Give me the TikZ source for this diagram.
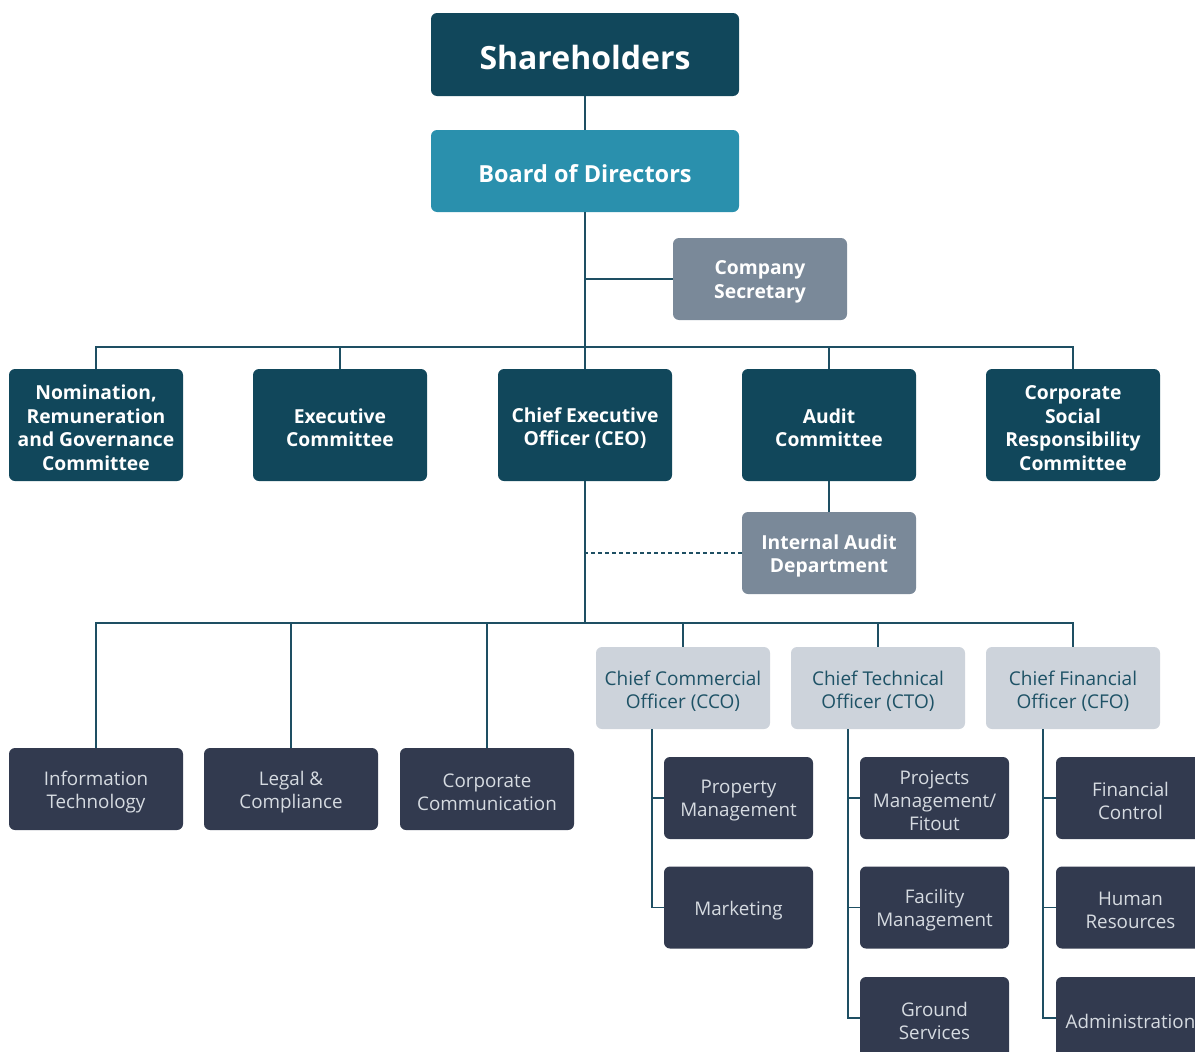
\documentclass[tikz,border=0pt]{standalone}
\usepackage{fontspec}
\setmainfont{Open Sans}
\usetikzlibrary{calc}
\definecolor{navy}{HTML}{11475B}
\definecolor{teal}{HTML}{2A90AD}
\definecolor{greybox}{HTML}{7A8999}
\definecolor{slate}{HTML}{323A4F}
\definecolor{pale}{HTML}{CDD3DB}
\definecolor{linec}{HTML}{1E4F63}
\definecolor{paletext}{HTML}{D6DBE1}
\definecolor{tealtext}{HTML}{1E5266}
\newcommand{\orgbox}[5]{%
  \node[#1] (#3) at (#4) {};
  \node[#2] (#3t) at ([yshift=-3pt]#3.center) {#5};}
\begin{document}
\begin{tikzpicture}[x=1pt,y=-1pt,
  box/.style={rectangle,rounded corners=6pt,inner sep=0pt,anchor=center},
  txt/.style={inner sep=0pt,align=center,anchor=center},
  topbox/.style={box,fill=navy,minimum width=308pt,minimum height=83pt},
  toptxt/.style={txt,text=white,font=\fontsize{32}{38}\selectfont\bfseries},
  boardbox/.style={box,fill=teal,minimum width=308pt,minimum height=82pt},
  boardtxt/.style={txt,text=white,font=\fontsize{23.5}{28}\selectfont\bfseries},
  combox/.style={box,fill=navy,minimum width=174pt,minimum height=112pt},
  greyb/.style={box,fill=greybox,minimum width=174pt,minimum height=82pt},
  boldtxt/.style={txt,text=white,font=\fontsize{19.3}{23.5}\selectfont\bfseries},
  chiefbox/.style={box,fill=pale,minimum width=174pt,minimum height=82pt},
  chieftxt/.style={txt,text=tealtext,font=\fontsize{19}{23.5}\selectfont},
  deptbox/.style={box,fill=slate,minimum width=174pt,minimum height=82pt},
  subbox/.style={deptbox,minimum width=149pt},
  depttxt/.style={txt,text=paletext,font=\fontsize{18.8}{23}\selectfont},
  conn/.style={draw=linec,line width=1.5pt},
  dashconn/.style={conn,dash pattern=on 4pt off 3pt}
]
\useasboundingbox (0,0) rectangle (1195,1052);
\clip (0,0) rectangle (1195,1052);

\orgbox{topbox}{toptxt}{sh}{585,54.5}{Shareholders}
\orgbox{boardbox}{boardtxt}{bod}{585,171}{Board of Directors}
\orgbox{greyb}{boldtxt}{sec}{760,279}{Company\\Secretary}

\orgbox{combox}{boldtxt}{nom}{96,425}{Nomination,\\Remuneration\\and Governance\\Committee}
\orgbox{combox}{boldtxt}{exe}{340,425}{Executive\\Committee}
\orgbox{combox}{boldtxt}{ceo}{585,425}{Chief Executive\\Officer (CEO)}
\orgbox{combox}{boldtxt}{aud}{829,425}{Audit\\Committee}
\orgbox{combox}{boldtxt}{csr}{1073,425}{Corporate\\Social\\Responsibility\\Committee}

\orgbox{greyb}{boldtxt}{ia}{829,553}{Internal Audit\\Department}

\orgbox{deptbox}{depttxt}{it}{96,789}{Information\\Technology}
\orgbox{deptbox}{depttxt}{leg}{291,789}{Legal \&\\Compliance}
\orgbox{deptbox}{depttxt}{cc}{487,789}{Corporate\\Communication}

\orgbox{chiefbox}{chieftxt}{cco}{683,688}{Chief Commercial\\Officer (CCO)}
\orgbox{chiefbox}{chieftxt}{cto}{878,688}{Chief Technical\\Officer (CTO)}
\orgbox{chiefbox}{chieftxt}{cfo}{1073,688}{Chief Financial\\Officer (CFO)}

\orgbox{subbox}{depttxt}{pm}{738.5,798}{Property\\Management}
\orgbox{subbox}{depttxt}{mk}{738.5,907.5}{Marketing}
\orgbox{subbox}{depttxt}{pj}{934.5,798}{Projects\\Management/\\Fitout}
\orgbox{subbox}{depttxt}{fm}{934.5,907.5}{Facility\\Management}
\orgbox{subbox}{depttxt}{gs}{934.5,1018}{Ground\\Services}
\orgbox{subbox}{depttxt}{fc}{1130.5,798}{Financial\\Control}
\orgbox{subbox}{depttxt}{hr}{1130.5,907.5}{Human\\Resources}
\orgbox{subbox}{depttxt}{ad}{1130.5,1018}{Administration}

\coordinate (busT) at (585,347);
\coordinate (busB) at (585,623);
\coordinate (ccoT) at ([xshift=56pt]cco.south west);
\coordinate (ctoT) at ([xshift=57pt]cto.south west);
\coordinate (cfoT) at ([xshift=57pt]cfo.south west);

\draw[conn] (sh.south) -- (bod.north);
\draw[conn] (bod.south) -- (ceo.north);
\draw[conn] (bod.south |- sec.west) -- (sec.west);
\draw[conn] (nom.north) |- (busT) -| (csr.north);
\draw[conn] (exe.north) -- (exe.north |- busT);
\draw[conn] (aud.north) -- (aud.north |- busT);
\draw[conn] (aud.south) -- (ia.north);
\draw[dashconn] (ia.west) -- (ceo.south |- ia.west);
\draw[conn] (ceo.south) -- (busB);
\draw[conn] (it.north) |- (busB) -| (cfo.north);
\draw[conn] (leg.north) -- (leg.north |- busB);
\draw[conn] (cc.north) -- (cc.north |- busB);
\draw[conn] (cco.north) -- (cco.north |- busB);
\draw[conn] (cto.north) -- (cto.north |- busB);
\draw[conn] (ccoT) |- (mk.west);
\draw[conn] (ccoT |- pm.west) -- (pm.west);
\draw[conn] (ctoT) |- (gs.west);
\draw[conn] (ctoT |- pj.west) -- (pj.west);
\draw[conn] (ctoT |- fm.west) -- (fm.west);
\draw[conn] (cfoT) |- (ad.west);
\draw[conn] (cfoT |- fc.west) -- (fc.west);
\draw[conn] (cfoT |- hr.west) -- (hr.west);
\end{tikzpicture}
\end{document}
